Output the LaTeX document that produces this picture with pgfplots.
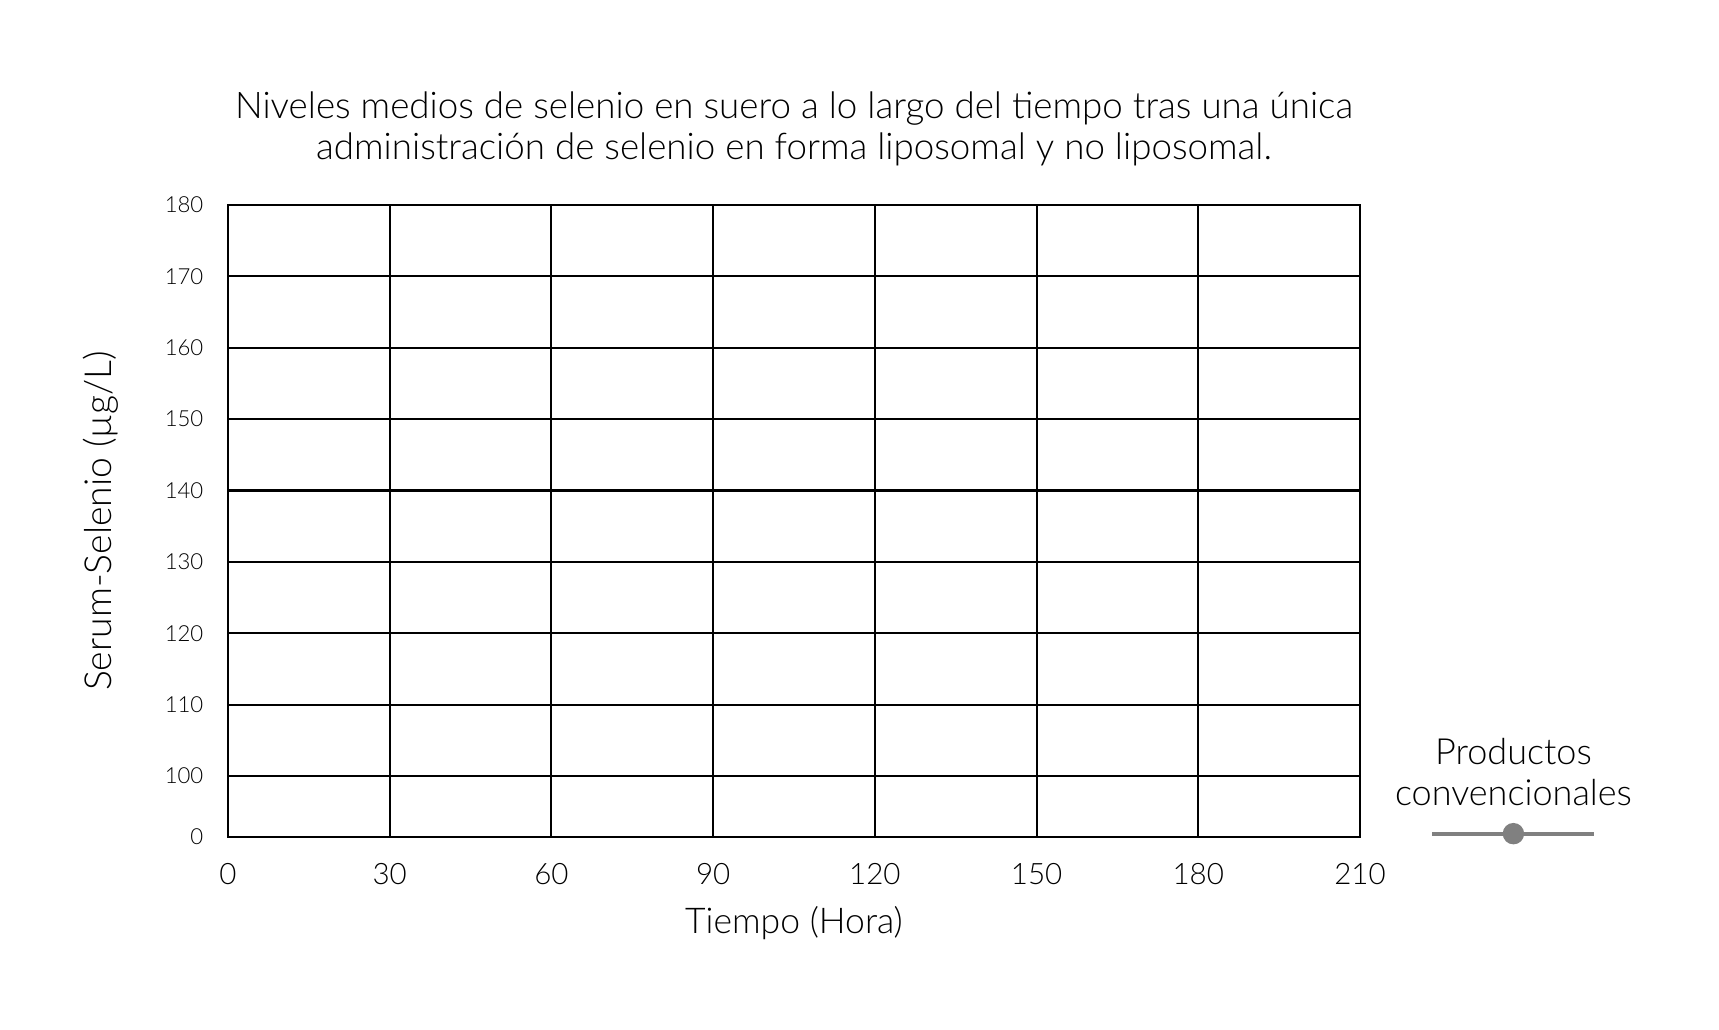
\documentclass[border=0pt]{standalone}
\usepackage{fontspec}
\setmainfont{Lato}[UprightFont=* Light]
\usepackage{pgfplots}
\pgfplotsset{compat=1.18}
\definecolor{legendgray}{HTML}{808080}
\begin{document}
\begin{tikzpicture}
\path[use as bounding box] (0,0) rectangle (171.9mm,102.9mm);
\begin{axis}[
  at={(22.8mm,19.24mm)}, anchor=south west,
  width=113.2mm, height=63.16mm, scale only axis,
  xmin=0, xmax=210, xtick distance=30,
  ymin=91.5, ymax=180,
  ytick={91.5,100,110,120,130,140,150,160,170,180},
  yticklabels={0,100,110,120,130,140,150,160,170,180},
  grid=major,
  grid style={black, line width=0.6pt},
  axis line style={black, line width=0.6pt},
  major tick length=0pt,
  /pgf/number format/assume math mode=true,
  xticklabel style={font=\fontsize{8.4}{10}\selectfont, anchor=base, yshift=-4.75mm},
  yticklabel style={font=\fontsize{6.3}{8}\selectfont, anchor=east, inner sep=0pt, xshift=-2.4mm},
  title={Niveles medios de selenio en suero a lo largo del tiempo tras una única\\administración de selenio en forma liposomal y no liposomal.},
  title style={font=\fontsize{10.45}{11.6}\selectfont, align=center, at={(0.5,1)}, anchor=south, inner sep=0pt, yshift=1.75mm},
  xlabel={Tiempo (Hora)},
  xlabel style={font=\fontsize{10.1}{12}\selectfont, at={(axis description cs:0.5,0)}, anchor=base, inner sep=0pt, yshift=-9.65mm},
  ylabel={Serum-Selenio (µg/L)},
  ylabel style={font=\fontsize{10.6}{12}\selectfont, at={(axis description cs:-0.1124,0.5)}, anchor=center, inner sep=0pt, rotate=0},
  legend style={draw=none, fill=none, inner sep=0pt,
    at={(axis description cs:1.1371,-0.0134)}, anchor=south,
    nodes={inner sep=0pt}, column sep=0pt},
]
\addlegendimage{legend image code/.code={
  \draw[legendgray, line width=1.1pt] (0,0) -- (16.2mm,0);
  \fill[legendgray] (8.1mm,0) circle (1mm);
  \node[anchor=base, font=\fontsize{10.25}{12}\selectfont, text=black] at (8.1mm,6.9mm) {Productos};
  \node[anchor=base, font=\fontsize{10.25}{12}\selectfont, text=black] at (8.1mm,2.8mm) {convencionales};
}}
\addlegendentry{}
\end{axis}
\end{tikzpicture}
\end{document}
